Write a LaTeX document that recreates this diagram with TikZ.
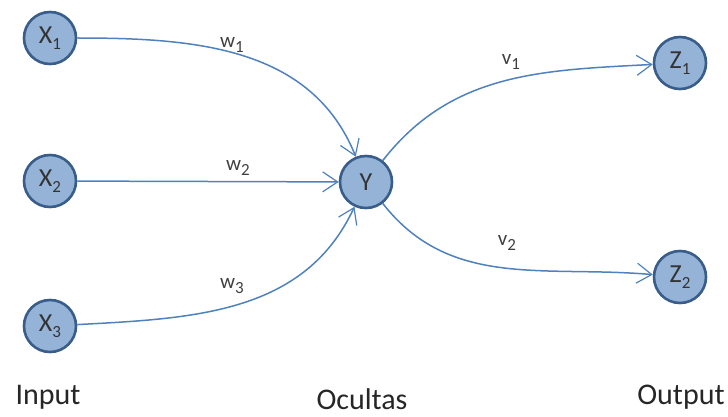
\documentclass[tikz,border=0pt]{standalone}
\usepackage{fontspec}
\setmainfont{Carlito}
\usetikzlibrary{arrows.meta}
\definecolor{edgeblue}{RGB}{79,129,189}
\definecolor{nodefill}{RGB}{149,179,215}
\definecolor{nodeline}{RGB}{56,93,138}
\newcommand{\idx}[1]{\raisebox{-0.45ex}{\fontsize{17}{17}\selectfont #1}}
\tikzset{
  neuron/.style={circle, draw=nodeline, fill=nodefill, line width=2.6pt, minimum size=52pt, inner sep=0pt, text=black!80, font=\fontsize{26}{26}\selectfont},
  weight/.style={text=black!75, font=\fontsize{21}{21}\selectfont, inner sep=0pt},
  layer/.style={text=black!85, font=\fontsize{30}{30}\selectfont, inner sep=0pt},
  link/.style={draw=edgeblue, line width=1.5pt, -{Straight Barb[length=15pt,width=20pt,line width=1.2pt]}}
}
\begin{document}
\begin{tikzpicture}[x=1pt,y=-1pt]
    \useasboundingbox (0,0) rectangle (728,417);
    % Neurons
    \node[neuron] (x1) at (50,38) {X\idx{1}};
    \node[neuron] (x2) at (50,181) {X\idx{2}};
    \node[neuron] (x3) at (50,326) {X\idx{3}};
    \node[neuron] (y) at (366,182) {Y};
    \node[neuron] (z1) at (680,63) {Z\idx{1}};
    \node[neuron] (z2) at (680,277) {Z\idx{2}};
    % Connections
    \draw[link] (x1) to[out=0,in=112] (y);
    \draw[link] (x2) -- (y);
    \draw[link] (x3) to[out=3,in=245] (y);
    \draw[link] (y) to[out=52,in=183] (z1);
    \draw[link] (y) to[out=-52,in=175] (z2);
    % Weights
    \node[weight] (w1) at (232,45) {w\idx{1}};
    \node[weight] (w2) at (238,168) {w\idx{2}};
    \node[weight] (w3) at (232,286) {w\idx{3}};
    \node[weight] (v1) at (511,62) {v\idx{1}};
    \node[weight] (v2) at (507,243) {v\idx{2}};
    % Layer names
    \node[layer] (input) at (48,397) {Input};
    \node[layer] (hidden) at (362,399) {Ocultas};
    \node[layer] (output) at (681,397) {Output};
\end{tikzpicture}
\end{document}
